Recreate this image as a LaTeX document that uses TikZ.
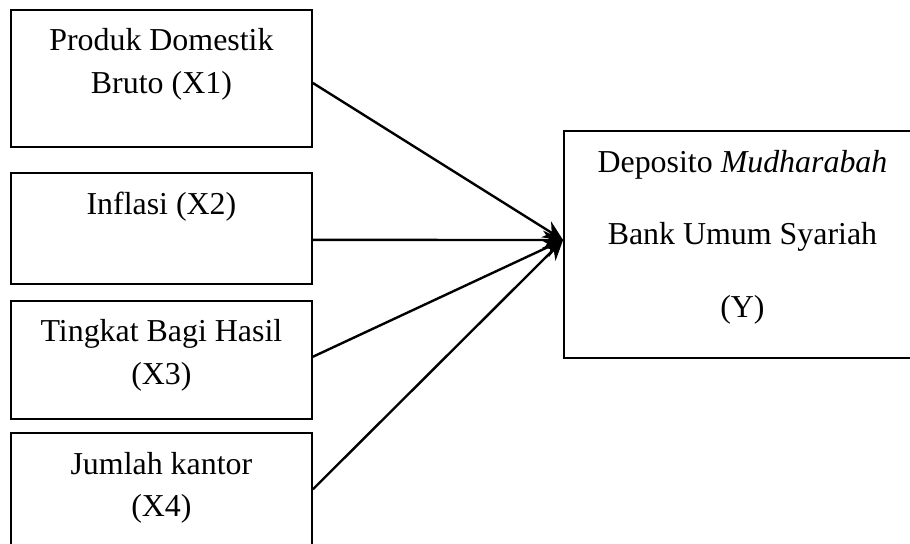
\documentclass[tikz,border=0pt]{standalone}
\usepackage{fontspec}
\setmainfont{Liberation Serif}
\usetikzlibrary{arrows.meta,positioning,calc}

\begin{document}
\begin{tikzpicture}[
  varbox/.style={draw, line width=0.7pt, minimum width=113.2pt, inner sep=0pt},
  lbl/.style={align=center, inner sep=0pt, font=\fontsize{12pt}{16pt}\selectfont},
  link/.style={-{Stealth[length=7.5pt,width=7pt]}, line width=0.9pt}]
  \useasboundingbox (0,0) rectangle (342.2pt,-204.5pt);
  % independent variables
  \node[varbox, minimum height=51.5pt] (x1) at (60.7pt,-29.5pt) {};
  \node[varbox, minimum height=41.7pt, below=9.1pt of x1] (x2) {};
  \node[varbox, minimum height=44.4pt, below=5.6pt of x2] (x3) {};
  \node[varbox, minimum height=43.6pt, below=4.8pt of x3] (x4) {};
  \node[lbl, below=7.2pt of x1.north] (x1t) {Produk Domestik\\Bruto (X1)};
  \node[lbl, below=7.2pt of x2.north] (x2t) {Inflasi (X2)};
  \node[lbl, below=7.2pt of x3.north] (x3t) {Tingkat Bagi Hasil\\(X3)};
  \node[lbl, below=7.2pt of x4.north] (x4t) {Jumlah kantor\\(X4)};
  % dependent variable
  \node[varbox, minimum width=134.2pt, minimum height=85.3pt] (dep) at (279.2pt,-91.95pt) {};
  \node[lbl, font=\fontsize{12pt}{27.4pt}\selectfont, below=7.2pt of dep.north] (dept)
    {Deposito \textit{Mudharabah}\\Bank Umum Syariah\\(Y)};
  % arrows
  \coordinate (hub) at ([yshift=1.7pt]dep.west);
  \draw[link] ([yshift=-1.7pt]x1.east) -- (hub);
  \draw[link] ([yshift=-4.3pt]x2.east) -- (hub);
  \draw[link] ([yshift=1.1pt]x3.east) -- (hub);
  \draw[link] ([yshift=0.75pt]x4.east) -- (hub);
\end{tikzpicture}
\end{document}
